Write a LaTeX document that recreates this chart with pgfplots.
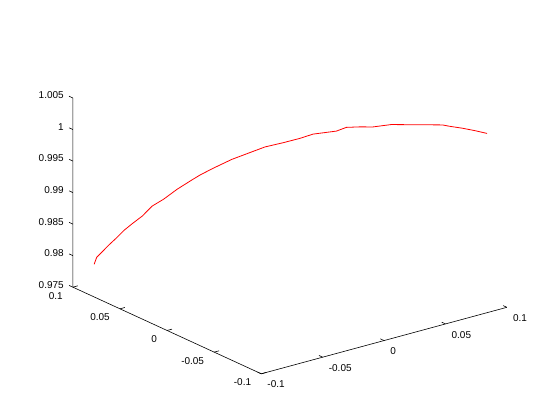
\documentclass[border=0pt]{standalone}
\usepackage{pgfplots}
\pgfplotsset{compat=1.18}
\usepackage{fontspec}
\setmainfont{Liberation Sans}
\begin{document}
\begin{tikzpicture}
\begin{axis}[
  view={-37.5}{30},
  scale only axis,
  width=434bp, height=342.3bp,
  xmin=-0.1, xmax=0.1, ymin=-0.1, ymax=0.1, zmin=0.975, zmax=1.005,
  xtick={-0.1,-0.05,0,0.05,0.1},
  ytick={-0.1,-0.05,0,0.05,0.1},
  ztick={0.975,0.98,0.985,0.99,0.995,1,1.005},
  /pgf/number format/assume math mode=true,
  /pgf/number format/fixed, /pgf/number format/precision=3,
  tick label style={font=\fontsize{10}{12}\selectfont, inner sep=0pt},
  xticklabel style={anchor=north west, xshift=6bp, yshift=-7bp},
  yticklabel style={anchor=north east, xshift=-10bp, yshift=-5bp},
  zticklabel style={anchor=east, xshift=-9bp, yshift=2.5bp},
  axis line style={draw=none},
  tick align=inside,
  major tick length=0pt,
  grid=none,
  clip=false,
]
\addplot3[red, line width=0.8pt] coordinates {
(-0.0988,0.0790,0.9800)
(-0.0975,0.0780,0.9811)
(-0.0913,0.0730,0.9831)
(-0.0879,0.0703,0.9841)
(-0.0838,0.0670,0.9854)
(-0.0795,0.0636,0.9865)
(-0.0745,0.0596,0.9877)
(-0.0695,0.0556,0.9893)
(-0.0637,0.0510,0.9904)
(-0.0569,0.0455,0.9920)
(-0.0494,0.0395,0.9935)
(-0.0452,0.0362,0.9943)
(-0.0385,0.0308,0.9954)
(-0.0293,0.0234,0.9968)
(-0.0201,0.0161,0.9979)
(-0.0126,0.0101,0.9988)
(-0.0034,0.0027,0.9995)
(0.0050,-0.0040,1.0002)
(0.0117,-0.0094,1.0009)
(0.0235,-0.0188,1.0014)
(0.0285,-0.0228,1.0020)
(0.0352,-0.0282,1.0021)
(0.0419,-0.0335,1.0021)
(0.0511,-0.0409,1.0025)
(0.0770,-0.0616,1.0025)
(0.0804,-0.0643,1.0023)
(0.0871,-0.0697,1.0020)
(0.0938,-0.0750,1.0016)
(0.0995,-0.0796,1.0012)
};
\draw[black, line width=0.6pt] (axis cs:0.1,-0.1,0.975) -- (axis cs:-0.1,-0.1,0.975) -- (axis cs:-0.1,0.1,0.975) -- (axis cs:-0.1,0.1,1.005);
\pgfplotsinvokeforeach{-0.1,-0.05,0,0.05,0.1}{
  \draw[black, line width=0.6pt] (axis cs:#1,-0.1,0.975) -- (axis cs:#1,-0.096,0.975);
  \draw[black, line width=0.6pt] (axis cs:-0.1,#1,0.975) -- (axis cs:-0.096,#1,0.975);
}
\pgfplotsinvokeforeach{0.975,0.98,0.985,0.99,0.995,1,1.005}{
  \draw[black, line width=0.6pt] (axis cs:-0.1,0.1,#1) -- (axis cs:-0.1,0.104,#1);
}
\coordinate (F) at (axis cs:-0.1,-0.1,0.975);
\end{axis}
\pgfresetboundingbox
\path ([shift={(-261.3bp,-46.2bp)}]F) rectangle ++(560bp,420bp);
\end{tikzpicture}
\end{document}
